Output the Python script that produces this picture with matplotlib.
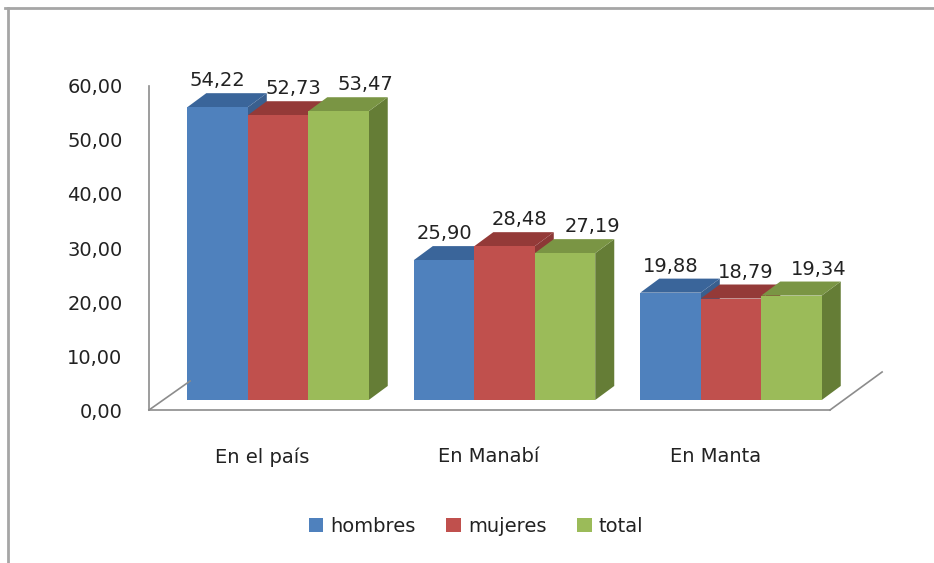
import matplotlib
matplotlib.use("Agg")
import matplotlib.pyplot as plt
from matplotlib.patches import Polygon, Patch
from matplotlib.lines import Line2D

# data
categories = ["En el país", "En Manabí", "En Manta"]
series = ["hombres", "mujeres", "total"]
hombres = [54.22, 25.90, 19.88]
mujeres = [52.73, 28.48, 18.79]
total = [53.47, 27.19, 19.34]
yticks = [0, 10, 20, 30, 40, 50, 60]

front = ["#4F81BD", "#C0504D", "#9BBB59"]
top = ["#3A659A", "#943A38", "#7A9544"]
side = ["#3A5F8E", "#8C3836", "#657D36"]
axis_col = "#8C8C8C"
txt = "#222222"
fs = 14

W, H = 934, 563
fig = plt.figure(figsize=(W / 100, H / 100), dpi=100)

# axes placed in pixel terms of the reference
ax = fig.add_axes([149 / W, (H - 410) / H, (830 - 149) / W, (410 - 86) / H])
ax.set_xlim(-0.5695, 2.437)
ax.set_ylim(0, 60)

bw = 0.267      # bar width (category units)
ddx = 0.084     # 3d depth in x
ddy = 2.6       # 3d depth in y
base = 1.85     # bars sit a little behind the front floor edge

# floor diagonals (drawn first so bars hide them)
ax.add_line(Line2D([-0.5695, -0.388], [0, 5.37], color=axis_col, lw=1.2, clip_on=False))
ax.add_line(Line2D([2.437, 2.667], [0, 7.04], color=axis_col, lw=1.2, clip_on=False))

label_dx = [0.0, 0.066, 0.12]
values = [hombres, mujeres, total]
for g in range(len(categories)):
    for s in range(len(series)):
        v = values[s][g]
        x0 = g + (s - 1.5) * bw
        x1 = x0 + bw
        y0, y1 = base, base + v
        # right side
        ax.add_patch(Polygon([(x1, y0), (x1 + ddx, y0 + ddy), (x1 + ddx, y1 + ddy), (x1, y1)],
                             closed=True, fc=side[s], ec="none", clip_on=False))
        # top
        ax.add_patch(Polygon([(x0, y1), (x1, y1), (x1 + ddx, y1 + ddy), (x0 + ddx, y1 + ddy)],
                             closed=True, fc=top[s], ec="none", clip_on=False))
        # front
        ax.add_patch(Polygon([(x0, y0), (x1, y0), (x1, y1), (x0, y1)],
                             closed=True, fc=front[s], ec="none", clip_on=False))
        lab = f"{v:.2f}".replace(".", ",")
        ax.annotate(lab, (x0 + bw / 2 + label_dx[s], y1), xytext=(0, 19), textcoords="offset points",
                    ha="center", va="center", fontsize=fs, color=txt, annotation_clip=False)

for sp in ["top", "right"]:
    ax.spines[sp].set_visible(False)
for sp in ["left", "bottom"]:
    ax.spines[sp].set_color(axis_col)
    ax.spines[sp].set_linewidth(1.2)

ax.set_yticks(yticks)
ax.set_yticklabels([f"{t:.2f}".replace(".", ",") for t in yticks], fontsize=fs, color=txt)
ax.set_xticks([i - 0.068 for i in range(len(categories))])
ax.set_xticklabels(categories, fontsize=fs, color=txt)
ax.tick_params(axis="y", length=0, pad=19)
ax.tick_params(axis="x", length=0, pad=27)
ax.patch.set_alpha(0)

handles = [Patch(fc=c, ec="none") for c in front]
fig.legend(handles, series, loc="center", bbox_to_anchor=(476 / W, 1 - 526 / H), ncol=3,
           frameon=False, fontsize=fs, handlelength=0.75, handleheight=0.75,
           handletextpad=0.35, columnspacing=1.6, labelcolor=txt)

# outer chart frame (only top and left edges visible)
fig.add_artist(Line2D([5 / W, 1], [1 - 8 / H, 1 - 8 / H], transform=fig.transFigure, color="#A6A6A6", lw=2))
fig.add_artist(Line2D([8 / W, 8 / W], [0, 1 - 8 / H], transform=fig.transFigure, color="#A6A6A6", lw=2))

fig.savefig("out.png", dpi=100)
